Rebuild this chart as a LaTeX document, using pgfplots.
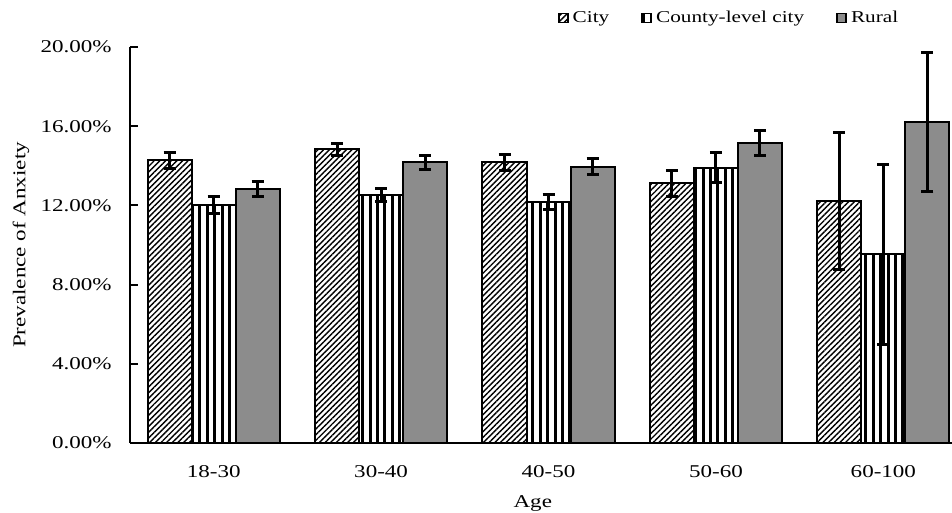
\documentclass[border=0pt]{standalone}
\usepackage{fontspec}
\setmainfont{Liberation Serif}[FakeStretch=1.28]
\usepackage{pgfplots}
\pgfplotsset{compat=1.18}
\usetikzlibrary{patterns.meta}
\definecolor{ruralgray}{RGB}{140,140,140}

\begin{document}
\fontsize{9}{10.5}\selectfont
\begin{tikzpicture}
\begin{axis}[
  name=ax,
  scale only axis, width=411pt, height=198pt,
  xmin=-0.5, xmax=4.41, ymin=0, ymax=20,
  axis x line=bottom, axis y line=left,
  axis line style={-, line width=1pt, black},
  tick align=inside,
  xtick={0,1,2,3,4},
  xticklabels={18-30,30-40,40-50,50-60,60-100},
  x tick style={draw=none},
  ytick={0,4,8,12,16,20},
  major tick length=4pt,
  y tick style={line width=1pt, black},
  /pgf/number format/assume math mode=true,
  yticklabel={\pgfmathprintnumber[fixed,fixed zerofill,precision=2]{\tick}\%},
  xticklabel style={yshift=-4pt},
  yticklabel style={xshift=-6pt},
  ylabel={Prevalence of Anxiety},
  ylabel style={at={(axis description cs:-0.1326,0.5)}, anchor=center},
  xlabel={Age},
  xlabel style={at={(axis description cs:0.49,-0.152)}, anchor=center},
  ybar, bar width=0.263,
  legend style={draw=none, fill=none, at={(axis description cs:0.73,1.073)}, anchor=center,
    font=\fontsize{8.3}{10}\selectfont,
    legend columns=-1, /tikz/every even column/.append style={column sep=14pt}},
  legend image code/.code={\draw[#1, line width=0.8pt] (0pt,-2.3pt) rectangle (4.6pt,2.3pt);},
  error bars/y dir=both, error bars/y explicit,
  error bars/error bar style={line width=1.5pt, black},
  error bars/error mark options={rotate=90, mark size=3pt, line width=1.5pt, black},
]
\addplot[draw=black, line width=1pt, bar shift=-0.263,
  pattern={Lines[angle=45,distance=2pt,line width=0.7pt]}]
  coordinates {(0,14.27) +- (0,0.40) (1,14.83) +- (0,0.32) (2,14.18) +- (0,0.41) (3,13.11) +- (0,0.66) (4,12.22) +- (0,3.47)};
\addlegendentry{City}
\addplot[draw=black, line width=1pt, bar shift=0,
  pattern={Lines[angle=90,distance=3.7pt,line width=1.5pt]}]
  coordinates {(0,12.02) +- (0,0.42) (1,12.53) +- (0,0.32) (2,12.19) +- (0,0.38) (3,13.91) +- (0,0.77) (4,9.53) +- (0,4.55)};
\addlegendentry{County-level city}
\addplot[draw=black, line width=1pt, bar shift=0.263, fill=ruralgray]
  coordinates {(0,12.83) +- (0,0.40) (1,14.18) +- (0,0.36) (2,13.96) +- (0,0.41) (3,15.13) +- (0,0.63) (4,16.20) +- (0,3.50)};
\addlegendentry{Rural}
\end{axis}
\pgfresetboundingbox
\path[use as bounding box] ([xshift=-65pt,yshift=-35pt]ax.south west) rectangle ([yshift=23.5pt]ax.north east);
\end{tikzpicture}
\end{document}
